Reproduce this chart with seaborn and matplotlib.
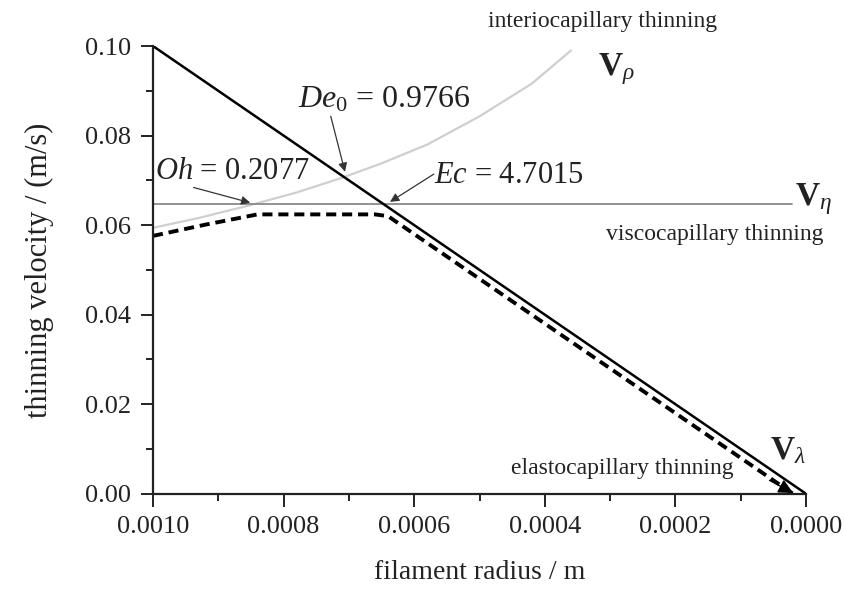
import numpy as np
import pandas as pd
import matplotlib
matplotlib.use("Agg")
import matplotlib.pyplot as plt
import seaborn as sns

# elastocapillary line (solid black)
r_lambda = [0.0010, 0.0000]
v_lambda = [0.100, 0.000]

# viscocapillary line (gray horizontal)
r_eta = [0.0010, 0.0000215]
v_eta = [0.0647, 0.0647]

# inertiocapillary curve (light gray)
r_rho = [0.00100, 0.00093, 0.00085, 0.00078, 0.00071, 0.00065, 0.00058, 0.00050, 0.00042, 0.00036]
v_rho = [0.0594, 0.0616, 0.0645, 0.0673, 0.0706, 0.0738, 0.0780, 0.0843, 0.0916, 0.0990]

# combined thinning velocity (dashed)
r_dash = [0.00100, 0.00092, 0.00084, 0.00066, 0.00064, 0.00002]
v_dash = [0.0576, 0.0601, 0.0624, 0.0624, 0.0620, 0.0000]

x_ticks = [0.0010, 0.0008, 0.0006, 0.0004, 0.0002, 0.0000]
y_ticks = [0.00, 0.02, 0.04, 0.06, 0.08, 0.10]

sns.set_theme(style="ticks")
plt.rcParams['font.family'] = ['Liberation Serif', 'DejaVu Serif']
plt.rcParams['mathtext.fontset'] = 'custom'
plt.rcParams['mathtext.rm'] = 'Liberation Serif'
plt.rcParams['mathtext.it'] = 'Liberation Serif:italic'
plt.rcParams['mathtext.bf'] = 'Liberation Serif:bold'

fig = plt.figure(figsize=(8.45, 5.9), dpi=100)
ax = fig.add_axes([0.181, 0.163, 0.773, 0.759])

sns.lineplot(x=r_rho, y=v_rho, ax=ax, color='#cfcfcf', lw=1.6, sort=False)
sns.lineplot(x=r_eta, y=v_eta, ax=ax, color='#8a8a8a', lw=1.3, sort=False)
sns.lineplot(x=r_lambda, y=v_lambda, ax=ax, color='black', lw=1.8, sort=False)
ax.plot(r_dash, v_dash, color='black', lw=2.8, dashes=(2.6, 1.5))

ax.set_xlim(0.0010, 0.0)
ax.set_ylim(0.0, 0.10)
ax.set_xticks(x_ticks)
ax.set_xticklabels([f"{t:.4f}" for t in x_ticks])
ax.set_yticks(y_ticks)
ax.set_yticklabels([f"{t:.2f}" for t in y_ticks])
ax.xaxis.set_minor_locator(matplotlib.ticker.MultipleLocator(0.0001))
ax.yaxis.set_minor_locator(matplotlib.ticker.MultipleLocator(0.01))
ax.tick_params(which='major', length=9, width=1.4, labelsize=19,
               color='#222222', labelcolor='#222222')
ax.tick_params(axis='y', which='major', pad=7)
ax.tick_params(axis='x', which='major', pad=7)
ax.tick_params(which='minor', length=5, width=1.4, color='#222222')
for s in ['left', 'bottom']:
    ax.spines[s].set_linewidth(1.6)
    ax.spines[s].set_color('#222222')
sns.despine(ax=ax)

ax.set_xlabel('filament radius / m', fontsize=20, color='#222222', labelpad=16)
ax.set_ylabel('thinning velocity / (m/s)', fontsize=22, color='#222222', labelpad=22)

arrow = dict(arrowstyle='-|>', color='#333333', lw=0.9, mutation_scale=13,
             shrinkA=0, shrinkB=0, patchA=None)
ax.annotate(r'$De_{\mathit{0}}$ = 0.9766', xy=(0.000706, 0.0719), xytext=(0.000778, 0.0862),
            fontsize=23, color='#222222', ha='left', va='baseline',
            arrowprops=dict(arrow, relpos=(0.19, -0.05)))
ax.annotate(r'$Oh$ = 0.2077', xy=(0.000851, 0.0650), xytext=(0.000997, 0.0703),
            fontsize=22, color='#222222', ha='left', va='baseline',
            arrowprops=dict(arrow, relpos=(0.25, -0.05)))
ax.annotate(r'$Ec$ = 4.7015', xy=(0.000637, 0.0652), xytext=(0.000570, 0.0694),
            fontsize=22, color='#222222', ha='left', va='baseline',
            arrowprops=dict(arrow, relpos=(0.0, 0.55)))

ax.text(0.000312, 0.1054, 'interiocapillary thinning', fontsize=17, ha='center', va='center',
        color='#222222', clip_on=False)
ax.text(0.000140, 0.0578, 'viscocapillary thinning', fontsize=17, ha='center', va='center',
        color='#222222', clip_on=False)
ax.text(0.000282, 0.0056, 'elastocapillary thinning', fontsize=17, ha='center', va='center',
        color='#222222', clip_on=False)

ax.text(0.000319, 0.0935, r'$\mathbf{V}_{\rho}$', fontsize=24, color='#222222', clip_on=False)
ax.text(0.0000169, 0.0645, r'$\mathbf{V}_{\eta}$', fontsize=24, color='#222222', clip_on=False)
ax.text(0.0000560, 0.0078, r'$\mathbf{V}_{\lambda}$', fontsize=24, color='#222222', clip_on=False)
ax.annotate('', xy=(0.0000200, 0.0002), xytext=(0.0000560, 0.0030),
            arrowprops=dict(arrowstyle='-|>', color='black', lw=1.0, mutation_scale=22,
                            shrinkA=0, shrinkB=0))

fig.savefig('out.png', dpi=100)
